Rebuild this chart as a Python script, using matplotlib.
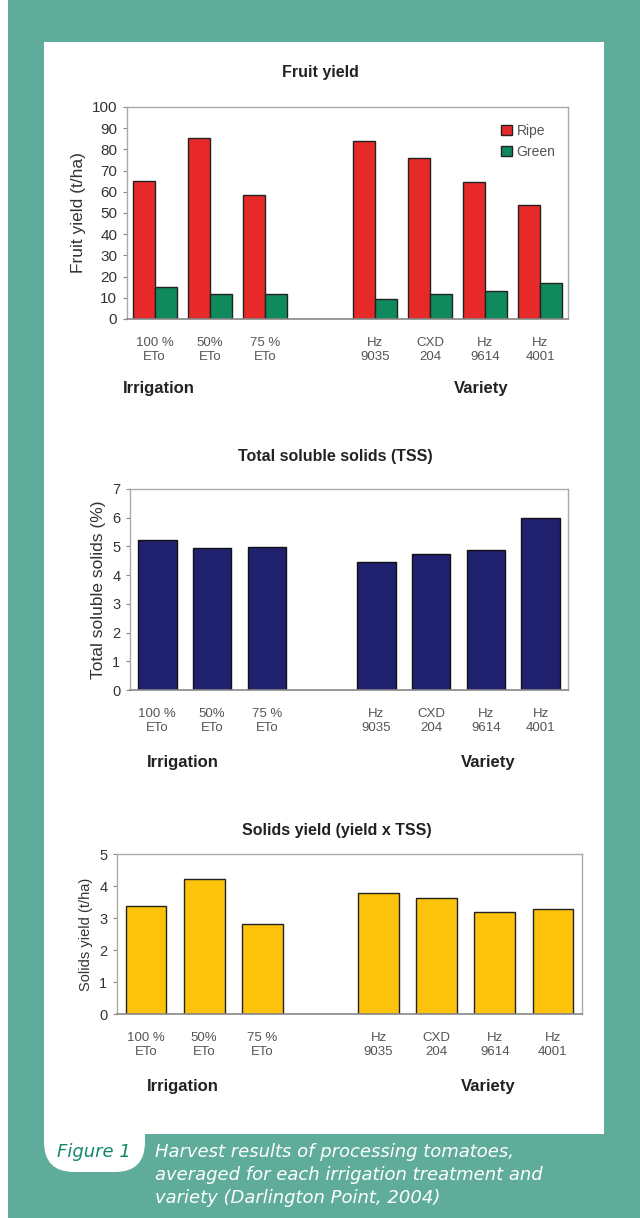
import matplotlib
matplotlib.use("Agg")
import matplotlib.pyplot as plt
from matplotlib.patches import Rectangle, FancyBboxPatch
import numpy as np

plt.rcParams['font.family'] = ['Liberation Sans', 'DejaVu Sans']

# Data
irrigation = ["100 %\nETo", "50%\nETo", "75 %\nETo"]
varieties = ["Hz\n9035", "CXD\n204", "Hz\n9614", "Hz\n4001"]
labels = irrigation + varieties

ripe = [65, 85.5, 58.5, 84, 76, 64.5, 54]
green = [15, 12, 12, 9.6, 12, 13, 17]
tss = [5.21, 4.93, 4.97, 4.47, 4.73, 4.88, 5.99]
solids = [3.39, 4.21, 2.81, 3.78, 3.64, 3.18, 3.27]

# slot positions: gap between the two groups
pos = np.array(list(range(len(irrigation))) + [i + len(irrigation) + 1 for i in range(len(varieties))])

W, H = 640, 1218
fig = plt.figure(figsize=(W / 100, H / 100), dpi=100)

def px(x, y):
    return x / W, 1 - y / H

def axes_px(x0, y0, x1, y1):
    return fig.add_axes([x0 / W, 1 - y1 / H, (x1 - x0) / W, (y1 - y0) / H])

# background
bg = fig.add_axes([0, 0, 1, 1])
bg.set_xlim(0, W)
bg.set_ylim(H, 0)
bg.axis('off')
teal = '#5eac99'
bg.add_patch(Rectangle((8, 0), W - 8, H, color=teal, lw=0))
bg.add_patch(Rectangle((44, 42), 560, 1092, color='white', lw=0))
bg.add_patch(FancyBboxPatch((44, 1100), 101, 72, boxstyle="round,pad=0,rounding_size=30",
                            color='white', lw=0))


def style(ax, ymax, step, ysize, ylabel, ylsize):
    ax.set_xlim(-0.5, 7.5)
    ax.set_ylim(0, ymax)
    ax.set_yticks(np.arange(0, ymax + step / 2, step))
    ax.set_xticks(pos)
    ax.set_xticklabels(labels, fontsize=9.5, color='#555555', linespacing=1.25)
    ax.tick_params(axis='x', length=0, pad=13)
    ax.tick_params(axis='y', length=3, color='#888888', labelsize=ysize, labelcolor='#333333', pad=4)
    for s in ['top', 'right', 'left']:
        ax.spines[s].set_color('#aaaaaa')
        ax.spines[s].set_linewidth(1)
    ax.spines['bottom'].set_color('#888888')
    ax.spines['bottom'].set_linewidth(1.2)
    ax.set_ylabel(ylabel, fontsize=ylsize, color='#333333', labelpad=4)


# Chart 1: fruit yield
ax1 = axes_px(127, 107, 568, 319)
bw = 0.4
ax1.bar(pos - bw / 2, ripe, bw, color='#e8292a', edgecolor='#222222', lw=1, label='Ripe')
ax1.bar(pos + bw / 2, green, bw, color='#0f8a5c', edgecolor='#222222', lw=1, label='Green')
style(ax1, 100, 10, 11, 'Fruit yield (t/ha)', 12.5)
ax1.legend(loc='upper right', frameon=False, fontsize=10, handlelength=0.8, handleheight=0.8,
           labelcolor='#555555', bbox_to_anchor=(1.0, 0.98), handletextpad=0.3, labelspacing=0.5)
fig.text(*px(320, 73), 'Fruit yield', ha='center', va='center', fontsize=11.5, fontweight='bold', color='#222222')
fig.text(*px(159, 388), 'Irrigation', ha='center', va='center', fontsize=12, fontweight='bold', color='#222222')
fig.text(*px(481, 388), 'Variety', ha='center', va='center', fontsize=12, fontweight='bold', color='#222222')

# Chart 2: TSS
ax2 = axes_px(130, 489, 568, 690)
ax2.bar(pos, tss, 0.7, color='#1f216e', edgecolor='#111111', lw=1)
style(ax2, 7, 1, 10.5, 'Total soluble solids (%)', 12.5)
fig.text(*px(335, 457), 'Total soluble solids (TSS)', ha='center', va='center', fontsize=11.5, fontweight='bold', color='#222222')
fig.text(*px(183, 762), 'Irrigation', ha='center', va='center', fontsize=12, fontweight='bold', color='#222222')
fig.text(*px(488, 762), 'Variety', ha='center', va='center', fontsize=12, fontweight='bold', color='#222222')

# Chart 3: solids yield
ax3 = axes_px(117, 854, 582, 1014)
ax3.bar(pos, solids, 0.7, color='#fcc30a', edgecolor='#222222', lw=1)
style(ax3, 5, 1, 10.5, 'Solids yield (t/ha)', 10.5)
fig.text(*px(337, 831), 'Solids yield (yield x TSS)', ha='center', va='center', fontsize=11.5, fontweight='bold', color='#222222')
fig.text(*px(183, 1087), 'Irrigation', ha='center', va='center', fontsize=12, fontweight='bold', color='#222222')
fig.text(*px(488, 1087), 'Variety', ha='center', va='center', fontsize=12, fontweight='bold', color='#222222')

# Caption
fig.text(*px(57, 1152), 'Figure 1', ha='left', va='center', fontsize=13, style='italic',
         color='#13876a', family=['DejaVu Sans'])
caption = ["Harvest results of processing tomatoes,",
           "averaged for each irrigation treatment and",
           "variety (Darlington Point, 2004)"]
for i, line in enumerate(caption):
    fig.text(*px(155, 1152 + 23 * i), line, ha='left', va='center', fontsize=13, style='italic',
             color='white', family=['DejaVu Sans'])

fig.savefig('out.png', dpi=100)
